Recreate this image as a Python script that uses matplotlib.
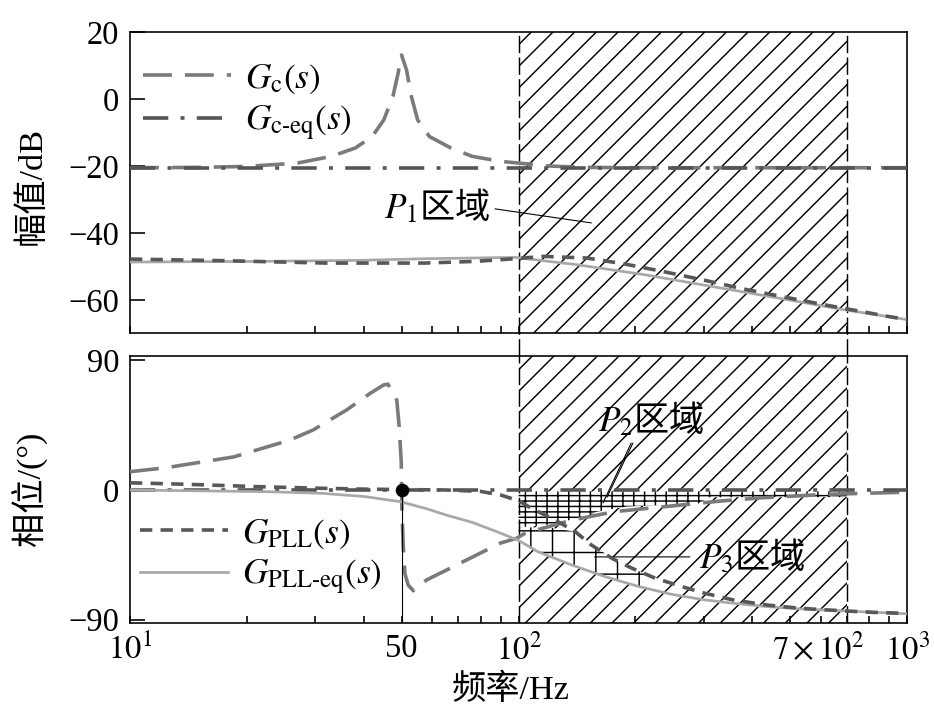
import matplotlib.pyplot as plt
from matplotlib.ticker import NullFormatter
from matplotlib.transforms import ScaledTranslation

plt.rcParams['font.family'] = ['Liberation Serif', 'Noto Sans CJK SC']
plt.rcParams['mathtext.fontset'] = 'stix'
plt.rcParams['hatch.linewidth'] = 0.8

DPI = 130
FS = 18        # tick labels
FS_LAB = 19    # axis titles
FS_LEG = 19.5  # legend entries and region labels

# ---- magnitude, dB ----
gc_mag_f = [10, 15, 20, 27, 33, 38, 42, 45, 47.5, 49, 50, 51.5, 53, 55, 59, 67, 76, 90,
            100, 120, 150, 200, 500, 1000]
gc_mag = [-20.5, -20.4, -20.1, -19.1, -17.1, -14.6, -11.2, -6.2, 0.8, 7.8, 13.2, 8.7, 0.8,
          -6.2, -11.2, -14.6, -17.1, -18.6, -19.1, -20.0, -20.4, -20.5, -20.5, -20.5]
gceq_mag_f = [10, 1000]
gceq_mag = [-20.6, -20.6]
pll_mag_f = [10, 17.6, 31.8, 57.4, 77.3, 98, 116, 150, 186, 235, 300, 378, 480, 608, 700,
             888, 1000]
pll_mag = [-47.8, -48.3, -49.0, -49.0, -48.5, -47.7, -47.0, -47.5, -49.2, -51.5, -54.1,
           -56.7, -59.1, -61.4, -62.7, -64.9, -65.9]
plleq_mag_f = [10, 21.4, 38.6, 57.4, 98, 141.5, 209, 311, 463, 684, 1000]
plleq_mag = [-48.7, -48.5, -48.2, -47.7, -47.3, -49.5, -52.4, -55.9, -59.4, -62.9, -65.9]

# ---- phase, degrees ----
gc_ph_f = [10, 12.4, 18.5, 25.8, 29.6, 36.1, 41.5, 44.9, 46.1, 48.6, 49.3, 49.9, 50.1, 50.5,
           51.0, 52.0, 53.6, 58.0, 65.3, 76.5, 89.6, 99, 104, 137, 177, 216, 263, 333, 418,
           622, 1000]
gc_ph = [12.7, 15.5, 23, 34.7, 41.7, 55.6, 67.1, 72.9, 73.6, 62.5, 44, 20, -14, -39, -58,
         -66, -70, -62.5, -55.6, -46.3, -37, -33.5, -30, -21, -15, -12.7, -10.4, -7.6, -5.5,
         -3, -1.5]
gceq_ph_f = [10, 1000]
gceq_ph = [0, 0]
pll_ph_f = [10, 13, 17, 21.4, 27, 31, 40, 50, 65, 80, 90, 100, 108, 124, 140, 154, 174, 196,
            225, 263, 302, 357, 435, 530, 685, 818, 1000]
pll_ph = [5, 4.2, 3.2, 2.3, 1.6, 1.2, 0.6, 0.3, 0, -1, -3.5, -7.5, -12.7, -20.8, -29, -38.2,
          -47.5, -54.4, -61.3, -67.1, -71.8, -76.4, -79.9, -82.2, -84, -85, -85.8]
plleq_ph_f = [10, 22.7, 31.1, 40, 49.6, 58, 65.3, 76, 88, 100, 112, 137, 167, 204, 248, 302,
              357, 435, 530, 685, 1000]
plleq_ph = [0, -1.2, -2.3, -4.5, -8.1, -13, -17.5, -22.5, -29, -35, -42.8, -52.1, -60.2,
            -67.1, -72.5, -76.4, -78.7, -81, -82.6, -84, -86]

# ---- regions ----
band_f = [100, 700]
p2_f = [100, 120, 140, 160, 190, 290, 310, 700]
p2_top = [-1, -1, -1, -1, -1, -1, -1, -1]
p2_bottom = [-26, -24, -20, -15, -11.5, -9.5, -5, -5]
p3_f = [100, 120, 140, 160, 180, 200, 230]
p3_top = [-26, -26, -29, -41, -49.5, -55.5, -62]
p3_bottom = [-35.5, -46, -53, -58.5, -63, -66.5, -70.5]
cross_f = 50

xtick_pos = [10, 50, 100, 700, 1000]
xtick_labels = [r'$10^1$', '50', r'$10^2$', r'$7\times10^2$', r'$10^3$']

style_gc = dict(color='#7a7a7a', lw=2.0, dashes=(8, 3.6))
style_gceq = dict(color='#555555', lw=2.0, dashes=(7, 3.4, 1.1, 3.4))
style_pll = dict(color='#585858', lw=2.0, dashes=(3.4, 2.3))
style_plleq = dict(color='#a8a8a8', lw=1.5)

fig = plt.figure(figsize=(934 / DPI, 714 / DPI), dpi=DPI)
ax1 = fig.add_axes([0.1392, 0.5332, 0.8319, 0.4216])
ax2 = fig.add_axes([0.1392, 0.1279, 0.8319, 0.3739])

for ax in (ax1, ax2):
    ax.set_xscale('log')
    ax.set_xlim(10, 1000)
    ax.axvspan(band_f[0], band_f[1], facecolor='none', edgecolor='black', hatch='//',
               lw=0, zorder=1)
    ax.xaxis.set_tick_params(which='both', direction='in', length=3.9, width=0.9,
                             top=False, labelsize=FS, pad=6)
    ax.yaxis.set_tick_params(which='major', direction='in', length=8.3, width=0.9,
                             right=False, labelsize=FS, pad=6)
    ax.xaxis.set_minor_formatter(NullFormatter())
    for sp in ax.spines.values():
        sp.set_linewidth(0.9)

# dashed band edges, running through the gap between the panels
for f in band_f:
    ax1.axvline(f, ymin=-0.075, ymax=1, color='black', lw=0.8, dashes=(12, 3),
                clip_on=False, zorder=4)
    ax2.axvline(f, color='black', lw=0.8, dashes=(12, 3), zorder=4)

# magnitude panel
l_gc, = ax1.plot(gc_mag_f, gc_mag, label=r'$G_{\mathrm{c}}(s)$', zorder=5, **style_gc)
l_gceq, = ax1.plot(gceq_mag_f, gceq_mag, label=r'$G_{\text{c-eq}}(s)$', zorder=5,
                   **style_gceq)
ax1.plot(plleq_mag_f, plleq_mag, zorder=5, **style_plleq)
ax1.plot(pll_mag_f, pll_mag, zorder=6, **style_pll)
ax1.set_ylim(-70, 20)
ax1.set_yticks([20, 0, -20, -40, -60])
ax1.set_xticks(xtick_pos)
ax1.tick_params(labelbottom=False)
ax1.set_ylabel('幅值/dB', fontsize=FS_LAB)
ax1.yaxis.set_label_coords(-0.106, 0.49)

ax1.text(84.5, -32.2, r'$P_1$区域', ha='right', va='center', fontsize=FS_LEG,
         family='Noto Sans CJK SC', zorder=7)
ax1.annotate('', xy=(154, -37), xytext=(87, -32.8),
             arrowprops=dict(arrowstyle='-', lw=0.6, color='black', shrinkA=0, shrinkB=0))

ax1.legend(handles=[l_gc, l_gceq], loc='upper left', bbox_to_anchor=(0.0167, 0.90),
           frameon=False, fontsize=FS_LEG, handlelength=2.5, handletextpad=0.4,
           labelspacing=0.22, borderpad=0, borderaxespad=0)

# phase panel
ax2.fill_between(p3_f, p3_top, p3_bottom, facecolor='white', edgecolor='black', hatch='+',
                 lw=0, zorder=2)
ax2.fill_between(p2_f, p2_top, p2_bottom, facecolor='white', edgecolor='black',
                 hatch='----||', lw=0, zorder=2)
ax2.plot(gc_ph_f, gc_ph, zorder=5, **style_gc)
ax2.plot(gceq_ph_f, gceq_ph, zorder=5, **style_gceq)
l_plleq, = ax2.plot(plleq_ph_f, plleq_ph, label=r'$G_{\text{PLL-eq}}(s)$', zorder=5,
                    **style_plleq)
l_pll, = ax2.plot(pll_ph_f, pll_ph, label=r'$G_{\text{PLL}}(s)$', zorder=6, **style_pll)
ax2.set_ylim(-92.2, 93.3)
ax2.vlines(cross_f, -92.2, 0, color='black', lw=0.6, zorder=6)
ax2.plot([cross_f], [0], 'o', color='black', ms=6.5, zorder=8)
ax2.set_yticks([90, 0, -90])
ax2.set_xticks(xtick_pos, xtick_labels)
ax2.set_ylabel('相位/(°)', fontsize=FS_LAB)
ax2.yaxis.set_label_coords(-0.106, 0.5)
ax2.set_xlabel('频率/Hz', fontsize=FS_LAB)
ax2.xaxis.set_label_coords(0.49, -0.19)

lab7 = ax2.get_xticklabels()[3]
lab7.set_transform(lab7.get_transform() + ScaledTranslation(-29 / DPI, 0, fig.dpi_scale_trans))

ax2.text(160, 48.6, r'$P_2$区域', ha='left', va='center', fontsize=FS_LEG,
         family='Noto Sans CJK SC', zorder=7)
for start, end in [((197, 32.6), (169, -4.9)), ((195, 32.6), (165, -9))]:
    ax2.annotate('', xy=end, xytext=start,
                 arrowprops=dict(arrowstyle='-', lw=0.6, color='black', shrinkA=0, shrinkB=0))
ax2.text(292, -46.3, r'$P_3$区域', ha='left', va='center', fontsize=FS_LEG,
         family='Noto Sans CJK SC', zorder=7)
ax2.annotate('', xy=(157, -46.5), xytext=(276, -46.5),
             arrowprops=dict(arrowstyle='-', lw=0.6, color='black', shrinkA=0, shrinkB=0))

ax2.legend(handles=[l_pll, l_plleq], loc='upper left', bbox_to_anchor=(0.013, 0.395),
           frameon=False, fontsize=FS_LEG, handlelength=2.5, handletextpad=0.4,
           labelspacing=0.2, borderpad=0, borderaxespad=0)

fig.savefig('out.png', dpi=DPI)
